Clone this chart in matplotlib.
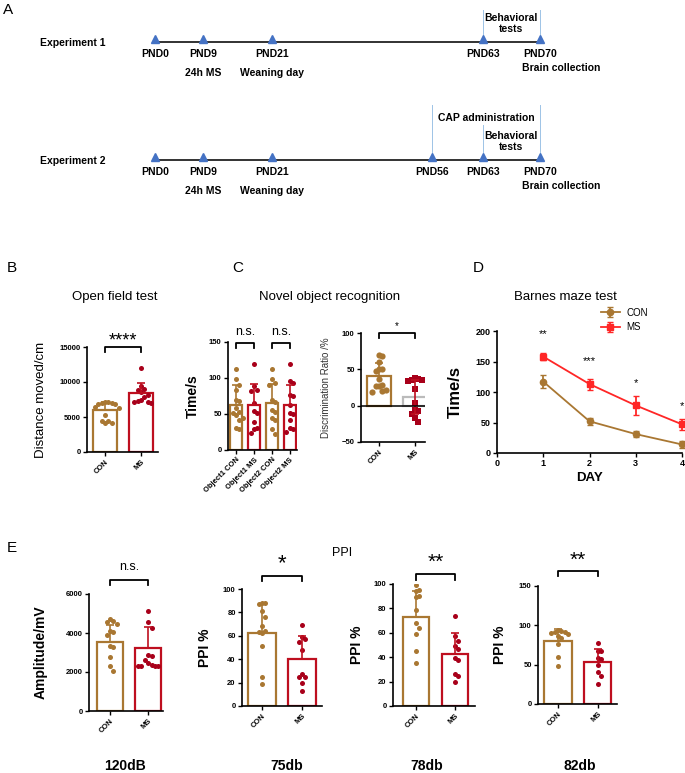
import numpy as np
import matplotlib.pyplot as plt

plt.rcParams['font.family'] = ['Liberation Sans', 'DejaVu Sans']
plt.rcParams['font.weight'] = 'bold'
plt.rcParams['axes.labelweight'] = 'bold'

W, H = 685, 773
BROWN = '#A97732'
RED = '#BE0F1F'
DOT_RED = '#A8001A'
LINE_RED = '#FF2626'
BLUE = '#4472C4'

# ---- A: experiment timelines
exp_names = ['Experiment 1', 'Experiment 2']
exp_days = [[0, 9, 21, 63, 70], [0, 9, 21, 56, 63, 70]]
event_text = {9: '24h MS', 21: 'Weaning day'}

# ---- B: open field
groups = ['CON', 'MS']
of_mean = [6000, 8470]
of_sd = [1100, 1340]
of_con = [7100, 7000, 7100, 6900, 7000, 6800, 6500, 6300, 5300, 4500, 4200, 4200, 4500]
of_ms = [12000, 9500, 9000, 8800, 8600, 8200, 7800, 7500, 7300, 7100, 7200, 7000]

# ---- C: novel object recognition
nor_groups = ['Object1 CON', 'Object1 MS', 'Object2 CON', 'Object2 MS']
nor_mean = [63, 62, 65, 62]
nor_sd = [27, 29, 27, 28]
nor_pts = [
    [112, 98, 90, 84, 70, 68, 59, 53, 51, 49, 45, 42, 31, 29],
    [119, 89, 84, 82, 65, 54, 52, 39, 31, 29, 24],
    [112, 98, 93, 90, 70, 67, 56, 53, 45, 42, 29, 22],
    [119, 96, 93, 76, 75, 62, 51, 50, 42, 31, 29, 25],
]
dr_mean = [41, 12]
dr_sd = [18, 23]
dr_con = [70, 68, 60, 51, 50, 48, 37, 29, 27, 27, 21, 20, 19]
dr_ms = [38, 37, 36, 35, 34, 23, 4, -6, -7, -11, -17, -23]

# ---- D: Barnes maze
days = [1, 2, 3, 4]
bm_con = [117, 52, 31, 14]
bm_con_err = [11, 6, 5, 5]
bm_ms = [158, 113, 78, 47]
bm_ms_err = [6, 9, 15, 9]
bm_sig = ['**', '***', '*', '*']
bm_sig_y = [195, 150, 115, 77]

# ---- E: PPI
ppi_titles = ['120dB', '75db', '78db', '82db']
ppi_ylabels = ['Amplitude/mV', 'PPI %', 'PPI %', 'PPI %']
ppi_sig = ['n.s.', '*', '**', '**']
ppi_mean = [[3550, 3220], [62, 40], [73, 43], [80, 53.5]]
ppi_sd = [[880, 1110], [25, 20], [21.5, 16.5], [15, 16]]
ppi_con = [
    [4700, 4630, 4560, 4460, 4120, 4050, 3880, 3330, 3270, 2750, 2310, 2070],
    [88, 88, 87, 81, 76, 68, 64, 63, 62, 51, 25, 19],
    [99, 95, 94, 90, 89, 79, 68, 64, 59, 45, 35],
    [94, 93, 92, 91, 90, 89, 86, 84, 76, 60, 48],
]
ppi_ms = [
    [5150, 4550, 4250, 2850, 2800, 2600, 2450, 2350, 2300, 2300, 2300, 2300],
    [69, 59, 57, 55, 48, 27, 25, 25, 20, 13],
    [74, 57, 53, 49, 47, 39, 38, 26, 25, 20],
    [78, 68, 67, 59, 57, 50, 41, 35, 25],
]

fig = plt.figure(figsize=(6.85, 7.73), dpi=100)


def px_axes(l, t, r, b):
    return fig.add_axes([l / W, 1 - b / H, (r - l) / W, (b - t) / H])


def ftext(x, y, s, **kw):
    kw.setdefault('ha', 'center')
    kw.setdefault('va', 'center')
    fig.text(x / W, 1 - y / H, s, **kw)


def style(ax, yticks, size=5.5):
    for s in ['top', 'right']:
        ax.spines[s].set_visible(False)
    for s in ['left', 'bottom']:
        ax.spines[s].set_linewidth(1.2)
    ax.set_yticks(yticks)
    ax.tick_params(width=1, length=3, labelsize=size, pad=1.5)


def ylabel_at(ax, text, x_px, **kw):
    ax.set_ylabel(text, **kw)
    pos = ax.get_position()
    ax.yaxis.set_label_coords((x_px / W - pos.x0) / pos.width, 0.5)


def swarm(vals, ax, tol_px=6.0, step_px=3.4):
    # simple beeswarm: points closer than tol_px vertically are spread sideways
    pos = ax.get_position()
    ylo, yhi = ax.get_ylim()
    xlo, xhi = ax.get_xlim()
    tol = (yhi - ylo) / (pos.height * H) * tol_px
    step = (xhi - xlo) / (pos.width * W) * step_px
    vals = np.asarray(vals, float)
    offs = np.zeros(len(vals))
    cand = [0.0]
    for k in range(1, 8):
        cand += [k * step, -k * step]
    placed = []
    for i in np.argsort(-vals):
        for c in cand:
            if all(abs(vals[i] - vals[j]) >= tol or abs(c - offs[j]) >= step * 0.95
                   for j in placed):
                offs[i] = c
                break
        placed.append(i)
    return offs


def bar_group(ax, x, mean, sd, pts, edge, dot, marker='o', both=False, ecol=None, size=13):
    ax.bar(x, mean, width=0.68, facecolor='white', edgecolor=edge, linewidth=1.6, zorder=2)
    offs = swarm(pts, ax)
    ax.scatter(x + offs, pts, s=size, color=dot, marker=marker, zorder=3, linewidths=0)
    yerr = [[sd], [sd]] if both else [[0], [sd]]
    ax.errorbar([x], [mean], yerr=yerr, color=ecol or edge, capsize=3, lw=1.2,
                capthick=1.2, zorder=4)


def bracket(ax, x0, x1, y, leg, text, tsize, ty):
    ax.plot([x0, x0, x1, x1], [y - leg, y, y, y - leg], color='k', lw=1.3, clip_on=False)
    ax.text((x0 + x1) / 2, ty, text, ha='center', va='center', fontsize=tsize,
            fontweight='normal', clip_on=False)


# ---------------- A
ftext(8, 10, 'A', fontsize=11, fontweight='normal')
sched_days = [0, 9, 21, 56, 63, 70]
sched_px = [155, 203, 272, 432, 483, 540]
axA = px_axes(155, 0, 540, 210)
axA.set_xscale('function', functions=(lambda d: np.interp(d, sched_days, sched_px),
                                      lambda p: np.interp(p, sched_px, sched_days)))
axA.set_xlim(0, 70)
axA.set_ylim(210, 0)
axA.axis('off')
row_y = [42, 160]
vlines = [[(63, 32), (70, 32)], [(56, 55), (63, 35), (70, 55)]]
for name, dlist, y, vl in zip(exp_names, exp_days, row_y, vlines):
    ftext(40, y + 1, name, ha='left', fontsize=7.5)
    for d, h in vl:
        axA.plot([d, d], [y - h, y], color='#9DC3E6', lw=0.7, clip_on=False)
    axA.plot([0, 70], [y, y], color='#222222', lw=1.3, clip_on=False)
    axA.plot(dlist, [y - 3.5] * len(dlist), '^', color=BLUE, ms=6, clip_on=False)
    for d in dlist:
        axA.text(d, y + 7, f'PND{d}', ha='center', va='top', fontsize=7.5)
        if d in event_text:
            axA.text(d, y + 26, event_text[d], ha='center', va='top', fontsize=7.5)
    axA.annotate('Brain collection', (70, y + 21), xytext=(-13, 0), textcoords='offset points',
                 ha='left', va='top', fontsize=7.5, annotation_clip=False)
    axA.text(66.4, y - 8, 'Behavioral\ntests', ha='center', va='bottom', fontsize=7.5,
             linespacing=1.15)
axA.annotate('CAP administration', (56, row_y[1] - 42), xytext=(4, 0), textcoords='offset points',
             ha='left', va='center', fontsize=7.5, annotation_clip=False)

# ---------------- B
ftext(12, 268, 'B', fontsize=11, fontweight='normal')
ftext(115, 297, 'Open field test', fontsize=9.5, fontweight='normal')
axB = px_axes(87, 347, 158, 452)
axB.set_xlim(-0.5, 1.47)
axB.set_ylim(0, 15000)
style(axB, [0, 5000, 10000, 15000])
bar_group(axB, 0, of_mean[0], of_sd[0], of_con, BROWN, BROWN)
bar_group(axB, 1, of_mean[1], of_sd[1], of_ms, RED, DOT_RED)
axB.set_xticks([0, 1], groups, rotation=45, ha='right', rotation_mode='anchor')
ylabel_at(axB, 'Distance moved/cm', 47, fontsize=9.5, fontweight='normal')
bracket(axB, 0, 1, 14950, 700, '****', 13, 15900)

# ---------------- C
ftext(238, 268, 'C', fontsize=11, fontweight='normal')
ftext(330, 297, 'Novel object recognition', fontsize=9.5, fontweight='normal')
axC = px_axes(228, 342, 297, 450)
axC.set_xlim(-0.45, 3.4)
axC.set_ylim(0, 150)
style(axC, [0, 50, 100, 150])
for i in range(4):
    c = BROWN if i % 2 == 0 else RED
    d = BROWN if i % 2 == 0 else DOT_RED
    bar_group(axC, i, nor_mean[i], nor_sd[i], nor_pts[i], c, d)
axC.set_xticks(range(4), nor_groups, rotation=45, ha='right', rotation_mode='anchor')
ylabel_at(axC, 'Time/s', 200, fontsize=10)
bracket(axC, 0, 1, 148, 7, 'n.s.', 9, 164)
bracket(axC, 2, 3, 148, 7, 'n.s.', 9, 164)

axC2 = px_axes(361, 333, 425, 442)
axC2.set_xlim(-0.5, 1.28)
axC2.set_ylim(-50, 100)
style(axC2, [-50, 0, 50, 100])
axC2.axhline(0, color='k', lw=1.1, zorder=5)
bar_group(axC2, 0, dr_mean[0], dr_sd[0], dr_con, BROWN, BROWN, size=20)
bar_group(axC2, 1, dr_mean[1], dr_sd[1], dr_ms, '#BBBBBB', DOT_RED, marker='s',
          both=True, ecol=RED, size=22)
axC2.set_xticks([0, 1], groups, rotation=45, ha='right', rotation_mode='anchor')
ylabel_at(axC2, 'Discrimination Ratio /%', 331, fontsize=7, fontweight='normal', color='#333333')
bracket(axC2, 0, 1, 100, 7, '*', 7, 110)

# ---------------- D
ftext(478, 268, 'D', fontsize=11, fontweight='normal')
ftext(565, 297, 'Barnes maze test', fontsize=9.5, fontweight='normal')
axD = px_axes(497, 331, 682, 453)
axD.set_xlim(0, 4)
axD.set_ylim(0, 200)
style(axD, [0, 50, 100, 150, 200], size=6.5)
axD.set_xticks([0, 1, 2, 3, 4])
axD.errorbar(days, bm_con, yerr=bm_con_err, color=BROWN, marker='o', ms=4.5, lw=1.3,
             capsize=2.5, clip_on=False, label='CON')
axD.errorbar(days, bm_ms, yerr=bm_ms_err, color=LINE_RED, marker='s', ms=4.5, lw=1.3,
             capsize=2.5, clip_on=False, label='MS')
for d, s, y in zip(days, bm_sig, bm_sig_y):
    axD.text(d, y, s, ha='center', va='center', fontsize=8, fontweight='normal', clip_on=False)
axD.set_xlabel('DAY', fontsize=9.5, labelpad=3)
ylabel_at(axD, 'Time/s', 463, fontsize=12)
axD.legend(loc='center left', bbox_to_anchor=(592 / W, 1 - 320 / H),
           bbox_transform=fig.transFigure, frameon=False, prop={'size': 7, 'weight': 'normal'},
           handlelength=2.0, handletextpad=0.6, labelspacing=0.5)

# ---------------- E
ftext(12, 548, 'E', fontsize=11, fontweight='normal')
ftext(342, 553, 'PPI', fontsize=9, fontweight='normal')
e_rects = [(89, 594, 163, 711), (242, 589, 322, 706), (393, 584, 475, 706), (538, 586, 617, 704)]
e_xlim = [(-0.55, 1.39), (-0.5, 1.5), (-0.59, 1.51), (-0.5, 1.48)]
e_ylim = [6000, 100, 100, 150]
e_ticks = [[0, 2000, 4000, 6000], [0, 20, 40, 60, 80, 100], [0, 20, 40, 60, 80, 100], [0, 50, 100, 150]]
e_lab_x = [48, 212, 364, 507]
e_title_x = [125, 287, 427, 580]
e_br = [(6720, 280, 7400, 9), (111, 4.5, 122, 16), (108, 4.5, 118, 15), (169, 6.5, 183, 15)]
for k in range(4):
    ax = px_axes(*e_rects[k])
    ax.set_xlim(*e_xlim[k])
    ax.set_ylim(0, e_ylim[k])
    style(ax, e_ticks[k])
    bar_group(ax, 0, ppi_mean[k][0], ppi_sd[k][0], ppi_con[k], BROWN, BROWN)
    bar_group(ax, 1, ppi_mean[k][1], ppi_sd[k][1], ppi_ms[k], RED, DOT_RED)
    ax.set_xticks([0, 1], groups, rotation=45, ha='right', rotation_mode='anchor')
    ylabel_at(ax, ppi_ylabels[k], e_lab_x[k], fontsize=10)
    yb, leg, ty, ts = e_br[k]
    bracket(ax, 0, 1, yb, leg, ppi_sig[k], ts if k else 9, ty)
    ftext(e_title_x[k], 766, ppi_titles[k], fontsize=10)

fig.savefig('out.png', dpi=100)
